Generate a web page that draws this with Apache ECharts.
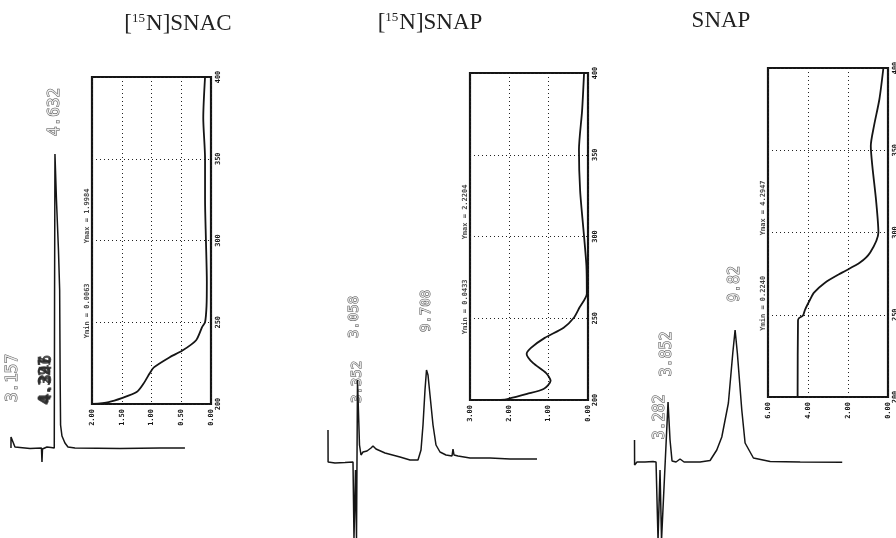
<!DOCTYPE html>
<html><head><meta charset="utf-8">
<script src="https://cdn.jsdelivr.net/npm/echarts@6/dist/echarts.min.js"></script>
<style>html,body{margin:0;padding:0;background:#fff}#c{width:896px;height:538px}</style>
</head><body><div id="c"></div>
<script>
// ---------- Panel titles ----------
const panelTitles = ['[{s|15}N]SNAC', '[{s|15}N]SNAP', 'SNAP'];

// ---------- Chromatogram 1: [15N]SNAC (time in min, detector signal) ----------
const snacTime   = [3.087,3.088,3.157,3.227,3.262,3.754,4.158,4.176,4.193,4.351,4.492,4.608,4.618,4.632,4.685,4.755,4.797,4.815,4.829,4.878,4.983,5.089,5.335,6.915,8.320,9.198];
const snacSignal = [0,11,12,1,0,-0.5,0,-14,-1,1,0.5,0,148,294,248,198,158,68,23,12,5,1,0,-0.5,0,0];
const snacPeakText   = ['3.157','4.632','4.297','4.321','4.346'];
const snacPeakTime   = [3.157, 4.632, 4.297, 4.321, 4.346];
const snacPeakLabelY = [70, 336, 68, 67, 69];

// ---------- Chromatogram 2: [15N]SNAP ----------
const snap15Time   = [0.645,0.654,1.290,2.212,2.949,3.041,3.180,3.272,3.364,3.548,3.687,3.871,4.240,4.608,4.793,5.069,5.899,7.281,8.203,8.940,9.217,9.401,9.585,9.724,9.862,10.046,10.323,10.599,10.968,11.521,12.074,12.166,12.258,12.627,13.733,15.576,17.419,19.908];
const snap15Signal = [32,0,-1,-0.5,0,-76,-8,-76,82,17,7,10,11,14,16,13,9,5,2,2,12,37,72,92,87,67,37,17,10,7,6,13,7,6,4,4,3,3];
const snap15PeakText   = ['3.058','3.352','9.708'];
const snap15PeakTime   = [3.058, 3.352, 9.708];
const snap15PeakLabelY = [145, 80, 151];

// ---------- Chromatogram 3: SNAP ----------
const snapTime   = [1.010,1.018,1.229,1.932,2.634,2.897,3.073,3.248,3.380,3.951,4.126,4.302,4.653,5.004,5.356,6.760,7.638,8.227,8.666,9.245,9.631,9.833,10.03,10.42,10.71,11.44,12.91,15.54,19.23];
const snapSignal = [22,-3,0,0,0.5,0,-78,-8,-78,60,22,1,0,3,0,0,1.5,12,25,59,109,132,109,52,19,4,0.5,0,-0.3];
const snapPeakText   = ['3.282','3.852','9.82'];
const snapPeakTime   = [3.282, 3.852, 9.82];
const snapPeakLabelY = [45, 108, 178];

// ---------- UV spectra insets (wavelength nm vs absorbance) ----------
const snacWave = [400,375,350,325,300,275,260,250,247,239,232.7,228.5,222.4,218.8,212.7,207.3,203.6,201.2,200];
const snacAbs  = [0.10,0.13,0.10,0.10,0.085,0.07,0.075,0.10,0.15,0.25,0.48,0.70,0.96,1.03,1.13,1.25,1.50,1.72,1.998];
const snap15Wave = [400,377,353,328,300,282,265,256.4,250.3,244.2,238,231.9,228.2,222.7,216.6,211.7,206.7,203.7,200.6,200];
const snap15Abs  = [0.10,0.15,0.23,0.20,0.10,0.04,0.03,0.22,0.36,0.62,1.10,1.45,1.56,1.40,1.07,0.95,1.13,1.55,2.05,2.22];
const snapWave = [400,381,364.8,352.6,340,320,300,287.8,281.7,275.6,269.5,263.4,259.1,253,249.5,248,246.5,200];
const snapAbs  = [0.23,0.43,0.70,0.86,0.78,0.60,0.48,0.89,1.40,2.30,3.15,3.70,3.90,4.15,4.25,4.45,4.50,4.52];

const absMax   = [2, 3, 6];
const absStep  = [0.5, 1, 2];
const waveTicks = [200, 400, 50];
const yMinText = ['Ymin = 0.0063', 'Ymin = 0.0433', 'Ymin = 0.2240'];
const yMaxText = ['Ymax = 1.9984', 'Ymax = 2.2204', 'Ymax = 4.2947'];
const yMinAt = 257, yMaxAt = 315;

const INK = '#151515';
const zip = (a, b) => a.map((v, i) => [v, b[i]]);

const chromGrids = [
  {left: 8.5, top: 148, width: 176.5, height: 390},
  {left: 321, top: 362, width: 217, height: 180},
  {left: 623, top: 322, width: 228, height: 220}
];
const insetGrids = [
  {left: 92, top: 77, width: 119, height: 327},
  {left: 470, top: 73, width: 118, height: 327},
  {left: 768, top: 68, width: 120, height: 329}
];
const chromX = [[3, 9.2], [0, 20], [0, 20]];
const chromY = [[-90, 300], [-80, 100], [-80, 140]];
const labelFont = [16, 14, 15];
const titleX = [178, 430, 721];
const titleY = [12, 11, 9];

const grid = [];
chromGrids.forEach(g => grid.push(Object.assign({containLabel: false, outerBoundsMode: 'none'}, g)));
insetGrids.forEach(g => grid.push(Object.assign({containLabel: false, outerBoundsMode: 'none', show: true, borderColor: INK, borderWidth: 2.2, backgroundColor: 'transparent'}, g)));

const xAxis = [], yAxis = [];
for (let i = 0; i < 3; i++) {
  xAxis.push({gridIndex: i, type: 'value', min: chromX[i][0], max: chromX[i][1], show: false});
  yAxis.push({gridIndex: i, type: 'value', min: chromY[i][0], max: chromY[i][1], show: false});
}
const dotted = {show: true, lineStyle: {color: '#222', width: 1, type: [1, 3]}};
const tinyLabel = {fontFamily: 'DejaVu Sans Mono', fontWeight: 'bold', fontSize: 7, color: INK};
for (let i = 0; i < 3; i++) {
  xAxis.push({gridIndex: 3 + i, type: 'value', min: 0, max: absMax[i], interval: absStep[i], inverse: true,
    position: 'bottom', axisLine: {show: false}, axisTick: {show: false}, splitLine: dotted,
    axisLabel: Object.assign({rotate: 90, margin: 5, showMinLabel: true, showMaxLabel: true,
      formatter: v => v.toFixed(2)}, tinyLabel)});
  yAxis.push({gridIndex: 3 + i, type: 'value', min: waveTicks[0], max: waveTicks[1], interval: waveTicks[2],
    position: 'right', axisLine: {show: false}, axisTick: {show: false}, splitLine: dotted,
    axisLabel: Object.assign({rotate: 90, margin: 4, showMinLabel: true, showMaxLabel: true}, tinyLabel)});
}

const series = [];
const chromData = [zip(snacTime, snacSignal), zip(snap15Time, snap15Signal), zip(snapTime, snapSignal)];
const peakSets = [[snacPeakText, snacPeakTime, snacPeakLabelY], [snap15PeakText, snap15PeakTime, snap15PeakLabelY], [snapPeakText, snapPeakTime, snapPeakLabelY]];
chromData.forEach((d, i) => {
  series.push({type: 'line', xAxisIndex: i, yAxisIndex: i, data: d, showSymbol: false, silent: true,
    lineStyle: {color: INK, width: 1.5}, clip: false});
  const [txt, tt, yy] = peakSets[i];
  series.push({type: 'scatter', xAxisIndex: i, yAxisIndex: i, symbolSize: 0, silent: true, clip: false,
    data: txt.map((s, k) => {
      // labels printed on top of each other come out as dark smudges
      const crowded = tt.some((o, j) => j !== k && Math.abs(o - tt[k]) < 0.1 && Math.abs(yy[j] - yy[k]) < 20);
      const item = {name: s, value: [tt[k], yy[k]]};
      if (crowded) item.label = {color: '#2a2a2a', textBorderColor: '#2a2a2a', textBorderWidth: 0.6};
      return item;
    }),
    label: {show: true, position: 'inside', rotate: 90, formatter: '{b}',
      fontFamily: 'DejaVu Sans Mono', fontSize: labelFont[i], color: '#fff',
      textBorderColor: '#262626', textBorderWidth: 1.0}});
});
const specData = [zip(snacAbs, snacWave), zip(snap15Abs, snap15Wave), zip(snapAbs, snapWave)];
specData.forEach((d, i) => {
  series.push({type: 'line', xAxisIndex: 3 + i, yAxisIndex: 3 + i, data: d, showSymbol: false, silent: true,
    smooth: 0.25, lineStyle: {color: INK, width: 1.8}});
  // min / max annotations printed just outside the left frame of each inset
  const outside = absMax[i] * 1.04;
  series.push({type: 'scatter', xAxisIndex: 3 + i, yAxisIndex: 3 + i, symbolSize: 0, silent: true, clip: false,
    data: [{name: yMaxText[i], value: [outside, yMaxAt]}, {name: yMinText[i], value: [outside, yMinAt]}],
    label: Object.assign({show: true, position: 'inside', rotate: 90, formatter: '{b}'}, tinyLabel)});
});

const title = panelTitles.map((t, i) => ({
  text: t, left: titleX[i], top: titleY[i], textAlign: 'center', padding: 0,
  textStyle: {fontFamily: 'Liberation Serif', fontSize: 23, fontWeight: 'normal', color: '#222',
    rich: {s: {fontFamily: 'Liberation Serif', fontSize: 13, verticalAlign: 'top', color: '#222', padding: [0, 1, 0, 0]}}}
}));

const chart = echarts.init(document.getElementById('c'), null, {renderer: 'canvas'});
chart.setOption({animation: false, backgroundColor: '#fff', title, grid, xAxis, yAxis, series});
</script></body></html>
